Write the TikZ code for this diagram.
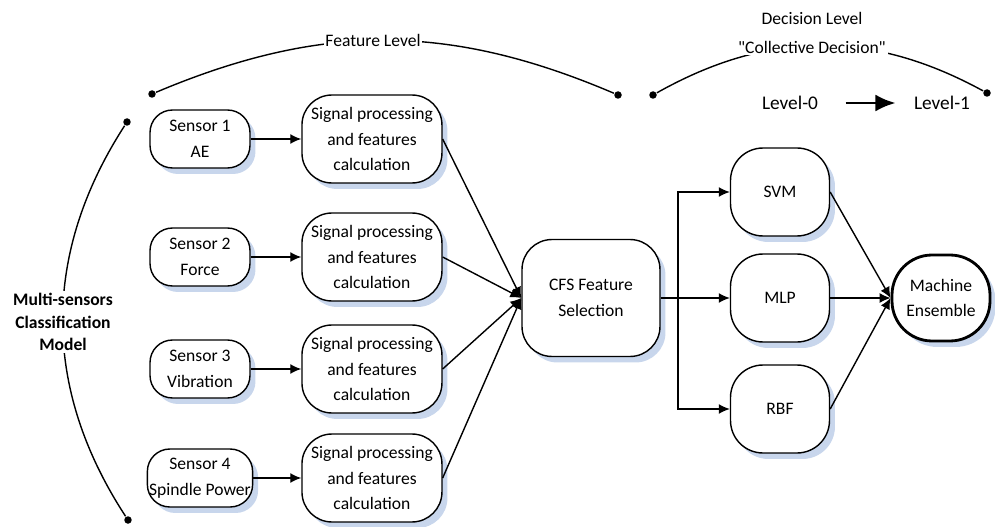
\documentclass[tikz,border=0pt]{standalone}
\usepackage{fontspec}
\setmainfont{Carlito}
\usepackage{tikz}
\tikzset{font={\fontsize{10pt}{14.5pt}\selectfont}}
\usetikzlibrary{arrows,arrows.meta}
\usepackage{xcolor}
\definecolor{shadowblue}{RGB}{200,214,236}

\begin{document}
\begin{tikzpicture}[x=0.02cm,y=-0.02cm,->,>={Latex[length=2.2mm,width=2mm]},thick,node distance=3.44cm,
    box/.style={draw,thick,fill=white,align=center,
      preaction={draw=none,fill=shadowblue,transform canvas={xshift=0.11cm,yshift=-0.12cm}}},
    sensor node/.style={box,rounded corners=0.45cm,minimum width=2cm,minimum height=1.16cm,inner xsep=1pt},
    signal node/.style={box,rounded corners=0.6cm,minimum width=2.8cm,minimum height=1.76cm,inner xsep=0pt},
    model node/.style={box,rounded corners=0.65cm,minimum width=1.98cm,minimum height=1.76cm},
    arc dot/.style={circle,fill,inner sep=0pt,minimum size=0.15cm},
    level text/.style={fill=white,inner sep=1pt}]

  \useasboundingbox (0,0) rectangle (995,527);

  \node[sensor node] (s1) at (200,139) {Sensor 1\\AE};
  \node[sensor node] (s2) at (200,257) {Sensor 2\\Force};
  \node[sensor node] (s3) at (200,369) {Sensor 3\\Vibration};
  \node[sensor node] (s4) at (200,478) {Sensor 4\\Spindle Power};
  \node[signal node] (p1) [right of=s1] {Signal processing\\and features\\calculation};
  \node[signal node] (p2) [right of=s2] {Signal processing\\and features\\calculation};
  \node[signal node] (p3) [right of=s3] {Signal processing\\and features\\calculation};
  \node[signal node] (p4) [right of=s4] {Signal processing\\and features\\calculation};

  \node[box,rounded corners=0.6cm,minimum width=2.76cm,minimum height=2.34cm] (cfs) at (591,298) {CFS Feature\\Selection};
  \coordinate (br) at (678,298);
  \node[model node] (svm) at (780,192) {SVM};
  \node[model node] (mlp) at (780,298) {MLP};
  \node[model node] (rbf) at (780,409) {RBF};
  \node[box,line width=1.6pt,rounded corners=0.8cm,minimum width=1.96cm,minimum height=1.72cm] (me) at (941,298) {Machine\\Ensemble};

  \path
    (s1) edge (p1)
    (s2) edge (p2)
    (s3) edge (p3)
    (s4) edge (p4)
    (p1.east) edge (cfs.west)
    (p2.east) edge (cfs.west)
    (p3.east) edge (cfs.west)
    (p4.east) edge (cfs.west)
    (svm.east) edge (me.west)
    (mlp.east) edge (me.west)
    (rbf.east) edge (me.west);
  \draw[-] (cfs.east) -- (br);
  \draw (br) |- (svm);
  \draw (br) -- (mlp);
  \draw (br) |- (rbf);

  % levels
  \node[arc dot] (fa) at (152,94) {};
  \node[arc dot] (fb) at (618,95) {};
  \draw[-] (fa) to[bend left=23] (fb);
  \node[level text] (fl) at (373,40) {Feature Level};

  \node[arc dot] (da) at (653,95) {};
  \node[arc dot] (db) at (987,93) {};
  \draw[-] (da) to[bend left=29] (db);
  \node (dl) at (812,18) {Decision Level};
  \node[level text] (cd) at (812,47) {\textquotedbl Collective Decision\textquotedbl};
  \node[font={\fontsize{11pt}{13pt}\selectfont}] (l0) at (790,103) {Level-0};
  \node[font={\fontsize{11pt}{13pt}\selectfont}] (l1) at (942,103) {Level-1};
  \draw[-{Latex[length=4mm,width=3.4mm]},line width=1.6pt,shorten <=0.42cm,shorten >=0.24cm] (l0) -- (l1);

  \node[arc dot] (ma) at (127,122) {};
  \node[arc dot] (mb) at (128,520) {};
  \draw[-] (ma) to[bend right=33] (mb);
  \node[level text,align=center,font={\bfseries\fontsize{10pt}{13pt}\selectfont}] (msc) at (63,322) {Multi-sensors\\Classification\\Model};
\end{tikzpicture}
\end{document}
